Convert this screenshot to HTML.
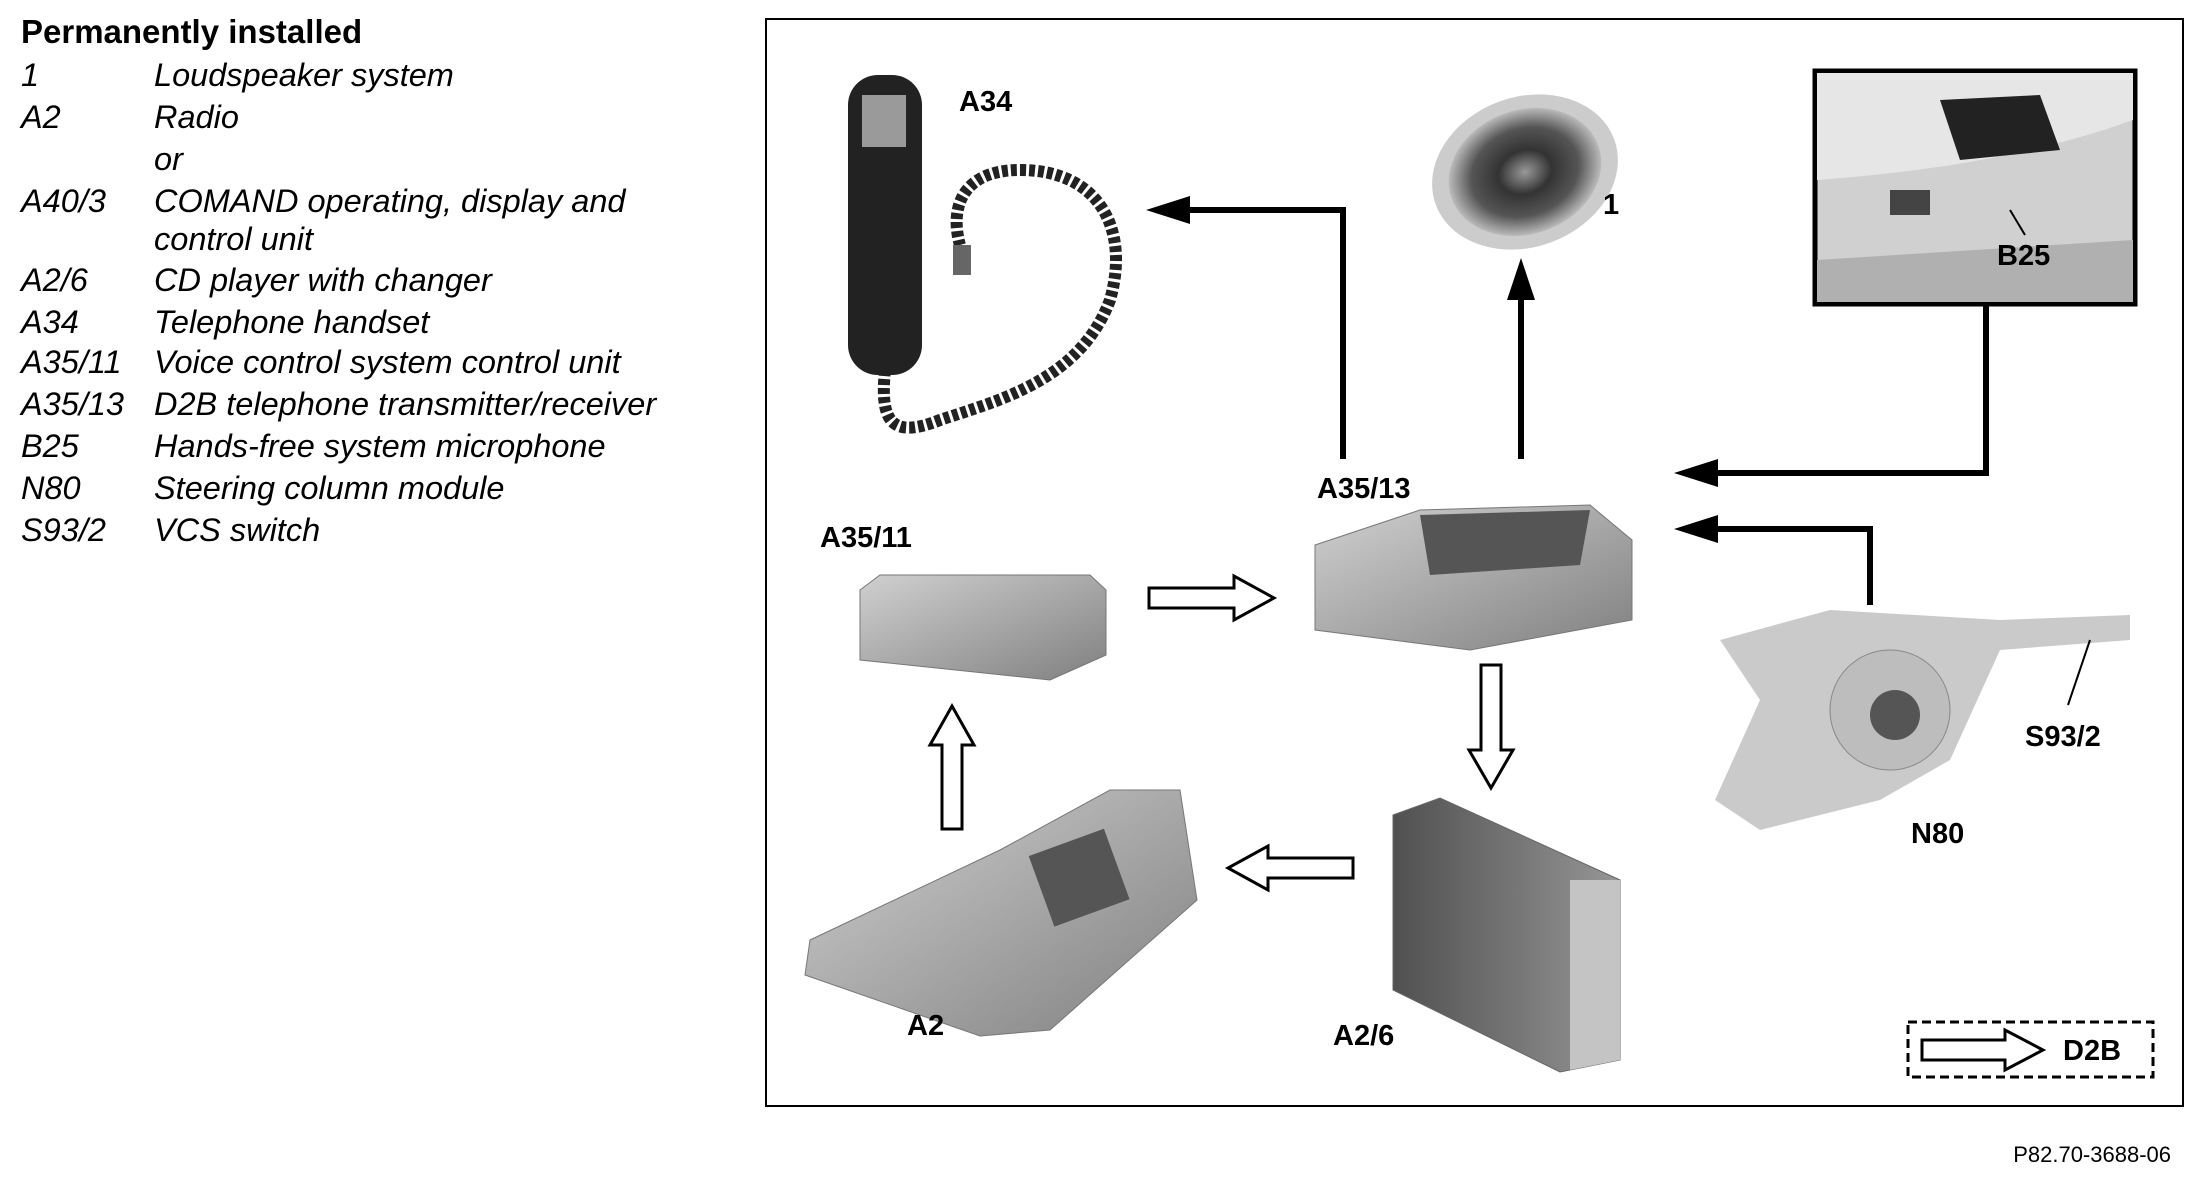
<!DOCTYPE html>
<html><head><meta charset="utf-8"><style>
html,body{margin:0;padding:0;background:#fff}
svg{display:block}
.lg{font-family:"Liberation Sans",sans-serif;font-style:italic;font-size:32.5px;fill:#000}
.lb{font-family:"Liberation Sans",sans-serif;font-weight:bold;font-size:29px;fill:#000}
</style></head><body>
<svg width="2196" height="1180" viewBox="0 0 2196 1180" xmlns="http://www.w3.org/2000/svg">
<defs>
<linearGradient id="g1" x1="0" y1="0" x2="1" y2="1"><stop offset="0" stop-color="#d0d0d0"/><stop offset="1" stop-color="#808080"/></linearGradient>
<linearGradient id="g2" x1="0" y1="0" x2="1" y2="0"><stop offset="0" stop-color="#505050"/><stop offset="1" stop-color="#969696"/></linearGradient>
<radialGradient id="sp"><stop offset="0" stop-color="#999"/><stop offset="0.35" stop-color="#333"/><stop offset="0.7" stop-color="#555"/><stop offset="1" stop-color="#bbb"/></radialGradient>
</defs>
<text x="21" y="43" font-family="Liberation Sans,sans-serif" font-weight="bold" font-size="33">Permanently installed</text>
<g class="lg">
<text x="21" y="86">1</text><text x="154" y="86">Loudspeaker system</text>
<text x="21" y="128">A2</text><text x="154" y="128">Radio</text>
<text x="154" y="170">or</text>
<text x="21" y="212">A40/3</text><text x="154" y="212">COMAND operating, display and</text>
<text x="154" y="250">control unit</text>
<text x="21" y="291">A2/6</text><text x="154" y="291">CD player with changer</text>
<text x="21" y="333">A34</text><text x="154" y="333">Telephone handset</text>
<text x="21" y="373">A35/11</text><text x="154" y="373">Voice control system control unit</text>
<text x="21" y="415">A35/13</text><text x="154" y="415">D2B telephone transmitter/receiver</text>
<text x="21" y="457">B25</text><text x="154" y="457">Hands-free system microphone</text>
<text x="21" y="499">N80</text><text x="154" y="499">Steering column module</text>
<text x="21" y="541">S93/2</text><text x="154" y="541">VCS switch</text>
</g>
<rect x="766" y="19" width="1417" height="1087" fill="none" stroke="#000" stroke-width="2"/>
<rect x="848" y="75" width="74" height="300" rx="30" fill="#222"/>
<rect x="862" y="95" width="44" height="52" fill="#9a9a9a"/>
<path d="M885 370 C880 420 890 440 940 420 C1000 400 1080 380 1110 300 C1130 230 1100 170 1020 170 C960 170 950 210 960 245" fill="none" stroke="#222" stroke-width="12" stroke-dasharray="6 3"/>
<rect x="953" y="245" width="18" height="30" fill="#666"/>
<ellipse cx="1525" cy="172" rx="95" ry="75" fill="#ccc" transform="rotate(-20 1525 172)"/>
<ellipse cx="1525" cy="172" rx="78" ry="62" fill="url(#sp)" transform="rotate(-20 1525 172)"/>
<rect x="1815" y="71" width="320" height="233" fill="#d0d0d0" stroke="#000" stroke-width="5"/>
<path d="M1817 73 L2133 73 L2133 120 C2050 150 1950 170 1817 180Z" fill="#e6e6e6"/>
<path d="M1940 100 L2040 95 L2060 150 L1960 160Z" fill="#222"/>
<rect x="1890" y="190" width="40" height="25" fill="#444"/>
<path d="M1817 260 L2133 240 L2133 302 L1817 302Z" fill="#b0b0b0"/>
<line x1="2010" y1="210" x2="2025" y2="235" stroke="#000" stroke-width="2"/>
<path d="M860 590 L880 575 L1090 575 L1106 590 L1106 655 L1050 680 L860 660Z" fill="url(#g1)" stroke="#777"/>
<path d="M1315 545 L1420 510 L1590 505 L1632 540 L1632 620 L1470 650 L1315 630Z" fill="url(#g1)" stroke="#777"/>
<path d="M1420 515 L1590 510 L1580 565 L1430 575Z" fill="#555"/>
<path d="M1393 815 L1440 798 L1620 880 L1620 1060 L1560 1072 L1393 990Z" fill="url(#g2)" stroke="#666"/>
<path d="M1570 880 L1620 880 L1620 1060 L1570 1070Z" fill="#c4c4c4"/>
<path d="M810 940 L1000 850 L1110 790 L1180 790 L1197 900 L1050 1030 L980 1036 L805 975Z" fill="url(#g1)" stroke="#777"/>
<rect x="1040" y="840" width="80" height="75" fill="#555" transform="rotate(-20 1080 880)"/>
<path d="M1720 640 L1830 610 L2000 620 L2130 615 L2130 640 L2000 650 L1950 760 L1880 800 L1760 830 L1715 800 L1760 700Z" fill="#cacaca"/>
<circle cx="1890" cy="710" r="60" fill="#bdbdbd" stroke="#888"/>
<circle cx="1895" cy="715" r="25" fill="#555"/>
<line x1="2090" y1="640" x2="2068" y2="705" stroke="#000" stroke-width="2"/>
<g fill="none" stroke="#000" stroke-width="6">
<polyline points="1343,459 1343,210 1170,210"/>
<line x1="1521" y1="459" x2="1521" y2="285"/>
<polyline points="1986,305 1986,473 1700,473"/>
<polyline points="1870,605 1870,529 1700,529"/>
</g>
<g fill="#000">
<polygon points="1146,210 1190,196 1190,224"/>
<polygon points="1521,258 1507,300 1535,300"/>
<polygon points="1674,473 1718,459 1718,487"/>
<polygon points="1674,529 1718,515 1718,543"/>
</g>
<g fill="#fff" stroke="#000" stroke-width="3">
<polygon points="1149,588 1234,588 1234,576 1274,598 1234,620 1234,608 1149,608"/>
<polygon points="1481,665 1501,665 1501,750 1513,750 1491,788 1469,750 1481,750"/>
<polygon points="1353,858 1268,858 1268,846 1228,868 1268,890 1268,878 1353,878"/>
<polygon points="942,829 962,829 962,745 974,745 952,706 930,745 942,745"/>
<polygon points="1922,1040 2005,1040 2005,1030 2043,1050 2005,1070 2005,1060 1922,1060"/>
</g>
<rect x="1908" y="1022" width="245" height="55" fill="none" stroke="#000" stroke-width="3" stroke-dasharray="9 5"/>
<g class="lb">
<text x="959" y="111">A34</text>
<text x="1603" y="214">1</text>
<text x="1997" y="265">B25</text>
<text x="1317" y="498">A35/13</text>
<text x="820" y="547">A35/11</text>
<text x="2025" y="746">S93/2</text>
<text x="1911" y="843">N80</text>
<text x="907" y="1035">A2</text>
<text x="1333" y="1045">A2/6</text>
<text x="2063" y="1060">D2B</text>
</g>
<text x="2171" y="1162" text-anchor="end" font-family="Liberation Sans,sans-serif" font-size="22">P82.70-3688-06</text>
</svg>
</body></html>
